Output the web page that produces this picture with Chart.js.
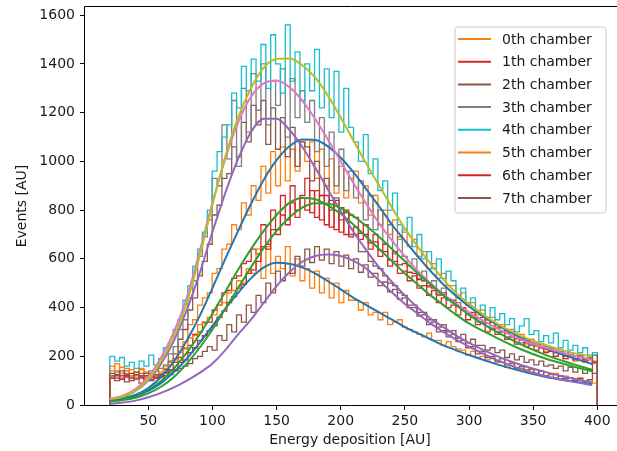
<!DOCTYPE html>
<html>
<head>
<meta charset="utf-8">
<script src="https://cdn.jsdelivr.net/npm/chart.js@4.4.1/dist/chart.umd.min.js"></script>
<style>
  html, body { margin: 0; padding: 0; background: #fff; overflow: hidden; }
  #wrap { width: 617px; height: 451px; }
</style>
</head>
<body>
<div id="wrap"><canvas id="energyChart" width="617" height="451"></canvas></div>
<script>
// histogram binning: 100 bins from 20 to 400
const binStart = 20;
const binWidth = 3.8;
const xTicks = [50, 100, 150, 200, 250, 300, 350, 400];
const yTicks = [0, 200, 400, 600, 800, 1000, 1200, 1400, 1600];
const chambers = ["0th chamber", "1th chamber", "2th chamber", "3th chamber",
  "4th chamber", "5th chamber", "6th chamber", "7th chamber"];

// events per bin, one array per chamber
const hist0 = [160,140,155,130,145,120,150,135,125,140,
  135,160,175,190,240,260,330,350,410,440,
  460,540,560,640,660,740,720,830,780,900,
  840,980,870,1040,900,1060,920,1050,960,1080,
  1000,1080,930,1050,900,1010,870,980,850,930,
  960,830,900,780,860,740,800,700,760,680,
  720,650,680,610,630,560,580,520,540,490,
  490,440,460,410,420,370,390,350,360,320,
  330,300,310,270,290,250,270,240,250,220,
  230,200,215,190,205,180,195,175,185,170];
const hist1 = [120,110,130,115,100,125,110,120,105,115,
  120,135,145,175,195,230,245,290,300,340,
  340,390,410,460,470,520,530,580,590,640,
  620,740,660,800,720,860,760,900,800,860,
  930,790,880,760,860,730,840,710,800,690,
  730,680,700,640,670,610,630,570,590,540,
  550,510,530,480,490,450,470,420,440,400,
  410,370,390,350,360,330,340,300,310,290,
  300,270,280,250,265,240,250,225,235,215,
  220,200,215,190,205,185,195,180,190,175];
const hist2 = [110,100,120,95,110,105,90,115,100,110,
  125,145,180,210,270,310,390,440,530,590,
  660,780,820,930,950,1060,1020,1160,1080,1230,
  1150,1250,1070,1220,1050,1180,1020,1140,980,1080,
  1060,920,1000,860,930,800,850,760,790,700,
  700,630,630,590,570,560,530,500,490,460,
  450,410,410,380,380,350,350,320,330,300,
  305,275,290,255,270,245,245,225,235,215,
  225,195,210,185,200,175,185,165,180,160,
  165,150,160,140,155,135,150,130,145,130];
const hist3 = [120,135,110,140,120,105,130,115,140,125,
  150,165,210,240,310,350,440,510,610,690,
  760,930,900,1150,1010,1250,980,1300,1120,1360,
  1210,1400,1150,1330,1230,1380,1100,1340,1180,1290,
  1160,1250,1040,1180,980,1120,900,1050,880,960,
  850,920,760,860,720,800,660,740,620,690,
  610,570,600,520,550,490,510,450,480,430,
  420,420,390,370,370,340,340,350,315,300,
  300,280,280,290,255,260,245,250,235,240,
  225,230,210,200,215,190,205,185,195,180];
const hist4 = [200,180,195,160,175,150,180,160,205,165,
  190,235,255,310,350,430,490,570,640,710,
  800,960,1040,1100,1150,1280,1220,1390,1290,1420,
  1330,1480,1300,1520,1400,1280,1560,1330,1450,1250,
  1400,1290,1460,1220,1380,1180,1370,1120,1300,1140,
  1080,1000,1110,950,1010,880,920,800,870,740,
  710,770,650,700,600,630,560,600,520,550,
  510,440,480,420,440,380,410,360,400,350,
  375,330,355,300,325,355,290,305,260,285,
  255,295,235,265,225,245,215,235,205,215];
const hist5 = [140,170,130,150,120,135,145,115,130,120,
  130,150,165,185,215,235,275,285,330,335,
  360,370,410,420,460,470,510,500,560,540,
  640,520,650,540,610,560,650,530,600,510,
  560,480,550,460,520,440,500,420,470,430,
  430,390,420,370,380,350,380,330,340,350,
  320,310,300,290,280,295,265,265,245,260,
  240,230,225,205,220,195,200,185,190,175,
  175,155,170,145,150,145,145,125,140,120,
  125,130,108,118,100,102,112,92,102,90];
const hist6 = [110,125,105,120,130,110,115,100,120,110,
  115,120,140,145,175,185,215,235,265,285,
  305,325,360,385,420,445,480,495,540,555,
  590,650,640,720,700,780,740,830,770,850,
  800,880,770,860,740,840,720,810,700,780,
  770,705,740,665,700,635,660,595,630,575,
  580,545,540,515,510,485,480,455,460,435,
  430,405,400,375,380,355,360,335,340,315,
  320,295,300,275,280,255,265,245,250,230,
  235,215,220,200,215,190,205,185,190,175];
const hist7 = [130,120,140,125,110,135,120,130,115,125,
  120,130,125,140,150,160,170,190,200,220,
  240,225,285,265,330,300,370,340,410,380,
  450,420,500,460,550,510,580,540,610,570,
  640,585,650,595,640,580,630,570,615,560,
  600,545,575,525,540,490,505,465,475,435,
  440,400,400,365,370,330,340,300,305,280,
  290,260,265,235,240,210,220,195,200,180,
  190,165,172,150,158,140,148,130,138,120,
  128,110,118,108,112,100,108,98,104,205];

// fitted curves, sampled along the energy axis
const fitX = [20,30,40,50,60,70,80,90,100,110,120,130,140,150,160,170,180,190,200,
  210,220,230,240,250,260,270,280,290,300,320,340,360,380,396];
const fit0 = [20,28,42,70,115,180,265,365,480,600,715,825,925,1005,1062,1090,1088,1062,1015,
  955,885,815,740,675,610,550,495,448,405,335,278,232,195,168];
const fit1 = [18,26,40,62,98,150,215,290,375,465,555,640,715,780,830,850,845,820,785,
  740,690,640,590,540,495,450,410,370,335,280,230,190,160,138];
const fit2 = [22,35,58,100,170,265,390,540,710,870,1010,1120,1175,1175,1130,1060,975,885,795,
  710,635,565,505,450,400,355,320,285,255,205,165,135,110,92];
const fit3 = [25,38,65,115,195,300,440,630,830,1010,1160,1265,1320,1332,1305,1250,1175,1090,1000,
  910,825,745,675,610,550,500,455,415,380,320,270,235,205,185];
const fit4 = [25,35,60,105,180,280,420,610,820,1020,1180,1300,1385,1420,1422,1395,1345,1270,1180,
  1085,990,900,810,725,650,580,515,460,415,340,285,245,215,200];
const fit5 = [14,22,36,58,90,135,190,255,325,395,460,520,565,584,580,565,540,508,475,
  440,410,380,350,320,295,270,245,225,205,170,140,115,98,85];
const fit6 = [14,20,30,48,75,115,170,235,310,395,480,565,645,715,770,810,828,826,808,
  775,735,690,640,590,540,495,450,410,370,305,250,205,170,145];
const fit7 = [5,10,18,32,50,72,100,132,170,225,290,350,420,488,545,588,612,618,612,
  592,560,510,462,415,375,335,300,268,240,188,148,118,96,82];

const hists = [hist0, hist1, hist2, hist3, hist4, hist5, hist6, hist7];
const fits = [fit0, fit1, fit2, fit3, fit4, fit5, fit6, fit7];

// matplotlib default colour cycle: each chamber takes a fit colour then a histogram colour
const fitColours = ["#1f77b4", "#2ca02c", "#9467bd", "#e377c2", "#bcbd22", "#1f77b4", "#2ca02c", "#9467bd"];
const histColours = ["#ff7f0e", "#d62728", "#8c564b", "#7f7f7f", "#17becf", "#ff7f0e", "#d62728", "#8c564b"];

function stepPoints(values) {
  const end = binStart + values.length * binWidth;
  const pts = [{ x: binStart, y: 0 }];
  values.forEach((v, i) => pts.push({ x: binStart + i * binWidth, y: v }));
  pts.push({ x: end, y: values[values.length - 1] });
  pts.push({ x: end, y: 0 });
  return pts;
}

var datasets = [];
hists.forEach((h, i) => {
  datasets.push({
    label: chambers[i],
    data: stepPoints(h),
    stepped: true,
    borderColor: histColours[i],
    borderWidth: 1.3,
    pointRadius: 0,
    fill: false,
    order: 30 - i, // later chambers on top
  });
});
fits.forEach((f, i) => {
  datasets.push({
    label: chambers[i] + " fit",
    data: fitX.map((x, k) => ({ x: x, y: f[k] })),
    borderColor: fitColours[i],
    borderWidth: 2,
    pointRadius: 0,
    cubicInterpolationMode: "monotone",
    fill: false,
    order: 10 - i, // curves sit above every histogram
  });
});

const textColour = "#1a1a1a";

// axes frame (the right side runs off the canvas), axis labels and the legend box
const decorations = {
  id: "decorations",
  afterDraw(chart) {
    const ctx = chart.ctx;
    const a = chart.chartArea;
    ctx.save();
    ctx.strokeStyle = "#000";
    ctx.lineWidth = 1;
    ctx.beginPath();
    ctx.moveTo(a.right + 1, a.top + 0.5);
    ctx.lineTo(a.left - 0.5, a.top + 0.5);
    ctx.lineTo(a.left - 0.5, a.bottom + 0.5);
    ctx.lineTo(a.right + 1, a.bottom + 0.5);
    ctx.stroke();

    ctx.fillStyle = textColour;
    ctx.font = "14px 'DejaVu Sans'";
    ctx.textAlign = "center";
    ctx.textBaseline = "middle";
    ctx.fillText("Energy deposition [AU]", 350, 440);
    ctx.save();
    ctx.translate(22, 206);
    ctx.rotate(-Math.PI / 2);
    ctx.fillText("Events [AU]", 0, 0);
    ctx.restore();

    // legend
    const lx = 455, ly = 27, lw = 151, lh = 186, r = 3;
    ctx.beginPath();
    ctx.moveTo(lx + r, ly);
    ctx.arcTo(lx + lw, ly, lx + lw, ly + lh, r);
    ctx.arcTo(lx + lw, ly + lh, lx, ly + lh, r);
    ctx.arcTo(lx, ly + lh, lx, ly, r);
    ctx.arcTo(lx, ly, lx + lw, ly, r);
    ctx.closePath();
    ctx.fillStyle = "rgba(255,255,255,0.8)";
    ctx.fill();
    ctx.strokeStyle = "#cccccc";
    ctx.stroke();

    ctx.textAlign = "left";
    chambers.forEach((name, i) => {
      const y = 39 + i * 22.7;
      ctx.strokeStyle = histColours[i];
      ctx.lineWidth = 2;
      ctx.beginPath();
      ctx.moveTo(458, y);
      ctx.lineTo(491, y);
      ctx.stroke();
      ctx.fillStyle = textColour;
      ctx.fillText(name, 502, y + 1);
    });
    ctx.restore();
  },
};

Chart.defaults.font.family = "'DejaVu Sans'";
Chart.defaults.font.size = 14;

var ctx = document.getElementById("energyChart").getContext("2d");
var energyChart = new Chart(ctx, {
  type: "line",
  data: { datasets: datasets },
  options: {
    responsive: false,
    animation: false,
    devicePixelRatio: 1,
    layout: { padding: { left: 0, top: 6, right: 0, bottom: 0 } },
    plugins: {
      legend: { display: false },
      tooltip: { enabled: false },
    },
    scales: {
      x: {
        type: "linear",
        // plot spans 85..617 px; the axis continues past the canvas edge
        min: 0.66,
        max: 415.35,
        grid: { drawOnChartArea: false, drawTicks: true, tickLength: 5, color: "#000" },
        border: { display: false },
        ticks: { color: textColour, padding: 3, maxRotation: 0, callback: (v) => String(v) },
        afterBuildTicks: (s) => { s.ticks = xTicks.map((v) => ({ value: v })); },
        afterFit: (s) => { s.height = 46; s.paddingLeft = 0; s.paddingRight = 0; },
      },
      y: {
        type: "linear",
        min: 0,
        max: 1638,
        grid: { drawOnChartArea: false, drawTicks: true, tickLength: 5, color: "#000" },
        border: { display: false },
        ticks: { color: textColour, padding: 5, callback: (v) => String(v) },
        afterBuildTicks: (s) => { s.ticks = yTicks.map((v) => ({ value: v })); },
        afterFit: (s) => { s.width = 85; s.paddingTop = 0; s.paddingBottom = 0; },
      },
    },
  },
  plugins: [decorations],
});
</script>
</body>
</html>
